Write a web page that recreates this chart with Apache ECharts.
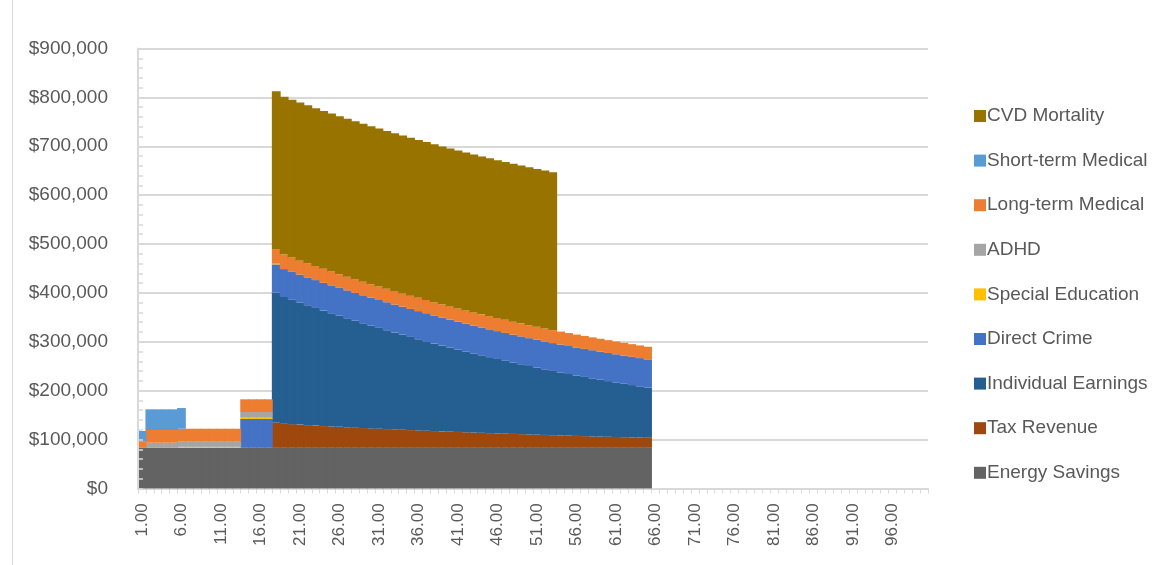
<!DOCTYPE html>
<html>
<head>
<meta charset="utf-8">
<script src="https://cdn.jsdelivr.net/npm/echarts@6/dist/echarts.min.js"></script>
<style>
  html, body { margin: 0; padding: 0; background: #ffffff; }
  #chart { width: 1156px; height: 565px; }
</style>
</head>
<body>
<div id="chart"></div>
<script>
// Categories (age / year index) shown as 1.00 ... 100.00
const ages = [1,2,3,4,5,6,7,8,9,10,11,12,13,14,15,16,17,18,19,20,
  21,22,23,24,25,26,27,28,29,30,31,32,33,34,35,36,37,38,39,40,
  41,42,43,44,45,46,47,48,49,50,51,52,53,54,55,56,57,58,59,60,
  61,62,63,64,65,66,67,68,69,70,71,72,73,74,75,76,77,78,79,80,
  81,82,83,84,85,86,87,88,89,90,91,92,93,94,95,96,97,98,99,100];

// Series values in dollars (index 0 = 1.00); absent years omitted at the end
const energySavings = [83000,83000,83000,83000,83000,83000,83000,83000,83000,83000,
  83000,83000,83000,83000,83000,83000,83000,83000,83000,83000,
  83000,83000,83000,83000,83000,83000,83000,83000,83000,83000,
  83000,83000,83000,83000,83000,83000,83000,83000,83000,83000,
  83000,83000,83000,83000,83000,83000,83000,83000,83000,83000,
  83000,83000,83000,83000,83000,83000,83000,83000,83000,83000,
  83000,83000,83000,83000,83000];

const taxRevenue = [0,0,0,0,0,0,0,0,0,0,0,0,0,0,0,0,0,
  52000,49500,48500,47500,46500,45500,44500,43700,42900,42100,
  41300,40500,39800,39100,38400,37700,37000,36300,35600,35000,
  34300,33700,33100,32500,31900,31300,30700,30100,29600,29000,
  28500,28000,27400,26900,26400,25900,25400,24900,24400,24000,
  23500,23100,22600,22200,21800,21400,21000,20600];

const individualEarnings = [0,0,0,0,0,0,0,0,0,0,0,0,0,0,0,0,0,
  266000,259000,254400,249800,245200,240700,236200,231800,227400,223100,
  218800,214600,210500,206400,202400,198400,194500,190600,186800,183100,
  179400,175800,172200,168700,165300,161900,158600,155400,152200,149100,
  146000,143000,140000,137100,134200,131400,128800,126200,123600,121100,
  118700,116300,113900,111600,109300,107000,104800,102600];

const directCrime = [0,0,0,0,0,0,0,0,0,0,0,0,0,59000,59000,59000,59000,
  57300,57200,57100,57000,57000,57000,56900,56900,56900,57000,
  57000,57000,57000,57000,57100,57100,57200,57300,57300,57300,
  57200,57200,57100,57100,57000,57000,57000,57000,57000,57000,
  57000,57000,57000,57000,57000,57000,57100,57200,57300,57400,
  57500,57500,57600,57600,57700,57700,57800,57800];

const specialEducation = [0,0,0,0,0,2000,2000,2000,2000,2000,2000,2000,2000,
  2700,2700,2700,2700,1400];

const adhd = [0,10500,10500,10500,10500,10500,10500,10500,10500,10500,10500,10500,10500,
  11600,11600,11600,11600];

const longTermMedical = [12500,26000,26000,26000,26000,26600,26600,26600,26600,26600,
  26600,26600,26600,26000,26000,26000,26000,
  30000,29600,29400,29200,29000,28800,28600,28400,28200,28000,
  27900,27800,27700,27600,27500,27400,27300,27200,27100,27100,
  27000,27000,27000,26900,26900,26900,26800,26800,26800,26800,
  26700,26700,26700,26700,26600,26600,26500,26500,26400,26400,
  26300,26300,26200,26200,26100,26000,25900,25800];

const shortTermMedical = [22000,42300,42300,42300,42300,42300];

const cvdMortality = [0,0,0,0,0,0,0,0,0,0,0,0,0,0,0,0,0,
  323000,323000,323000,323000,323000,323000,323000,323000,323000,323000,
  323000,323000,323000,323000,323000,323000,323000,323000,323000,323000,
  323000,323000,323000,323000,323000,323000,323000,323000,323000,323000,
  323000,323000,323000,323000,323000,323000];

const yTicks = { min: 0, max: 900000, interval: 100000 };

const seriesDefs = [
  { name: 'Energy Savings', data: energySavings, color: '#636363' },
  { name: 'Tax Revenue', data: taxRevenue, color: '#9E480E' },
  { name: 'Individual Earnings', data: individualEarnings, color: '#255E91' },
  { name: 'Direct Crime', data: directCrime, color: '#4472C4' },
  { name: 'Special Education', data: specialEducation, color: '#FFC000' },
  { name: 'ADHD', data: adhd, color: '#A5A5A5' },
  { name: 'Long-term Medical', data: longTermMedical, color: '#ED7D31' },
  { name: 'Short-term Medical', data: shortTermMedical, color: '#5B9BD5' },
  { name: 'CVD Mortality', data: cvdMortality, color: '#997300' }
];

const FONT = "'Liberation Sans', Arial, sans-serif";
const TEXT = '#595959';
const LINE = '#d9d9d9';

const chart = echarts.init(document.getElementById('chart'), null, { renderer: 'canvas' });
chart.setOption({
  animation: false,
  backgroundColor: '#ffffff',
  textStyle: { fontFamily: FONT },
  grid: { left: 138, right: 228, top: 48.5, bottom: 76.6, containLabel: false },
  legend: {
    orient: 'vertical',
    left: 969,
    top: 101,
    icon: 'rect',
    itemWidth: 12,
    itemHeight: 12,
    itemGap: 24.6,
    data: seriesDefs.map(s => s.name).reverse(),
    textStyle: { fontFamily: FONT, fontSize: 19, color: TEXT, lineHeight: 20, padding: [0, 0, 0, -4] }
  },
  graphic: [{
    type: 'line',
    shape: { x1: 12.5, y1: 0, x2: 12.5, y2: 565 },
    style: { stroke: LINE, lineWidth: 1 }
  }],
  xAxis: {
    type: 'category',
    data: ages,
    axisLine: { lineStyle: { color: LINE, width: 2 } },
    axisTick: { show: true, interval: 0, length: 5, lineStyle: { color: LINE, width: 1 } },
    axisLabel: {
      interval: 4,
      rotate: 90,
      margin: 15,
      fontFamily: FONT,
      fontSize: 17,
      color: TEXT,
      formatter: v => Number(v).toFixed(2)
    },
    splitLine: { show: false }
  },
  yAxis: [{
    type: 'value',
    min: yTicks.min,
    max: yTicks.max,
    interval: yTicks.interval,
    axisLine: { show: false },
    axisTick: { show: false },
    axisLabel: {
      margin: 30,
      fontFamily: FONT,
      fontSize: 19,
      color: TEXT,
      formatter: v => '$' + v.toLocaleString('en-US')
    },
    splitLine: { show: true, lineStyle: { color: LINE, width: 2 } }
  }, {
    type: 'value',
    min: yTicks.min,
    max: yTicks.max,
    interval: yTicks.interval,
    position: 'left',
    z: 10,
    axisLine: { show: true, lineStyle: { color: LINE, width: 2 } },
    axisTick: { show: true, inside: true, length: 5, lineStyle: { color: LINE, width: 1.5 } },
    minorTick: { show: true, splitNumber: 5, length: 5, lineStyle: { color: LINE, width: 1.5 } },
    axisLabel: { show: false },
    splitLine: { show: false }
  }],
  series: seriesDefs.map(s => ({
    name: s.name,
    type: 'bar',
    stack: 'total',
    yAxisIndex: 0,
    barWidth: 8.8,
    data: s.data,
    itemStyle: { color: s.color },
    emphasis: { disabled: true }
  }))
});
</script>
</body>
</html>
